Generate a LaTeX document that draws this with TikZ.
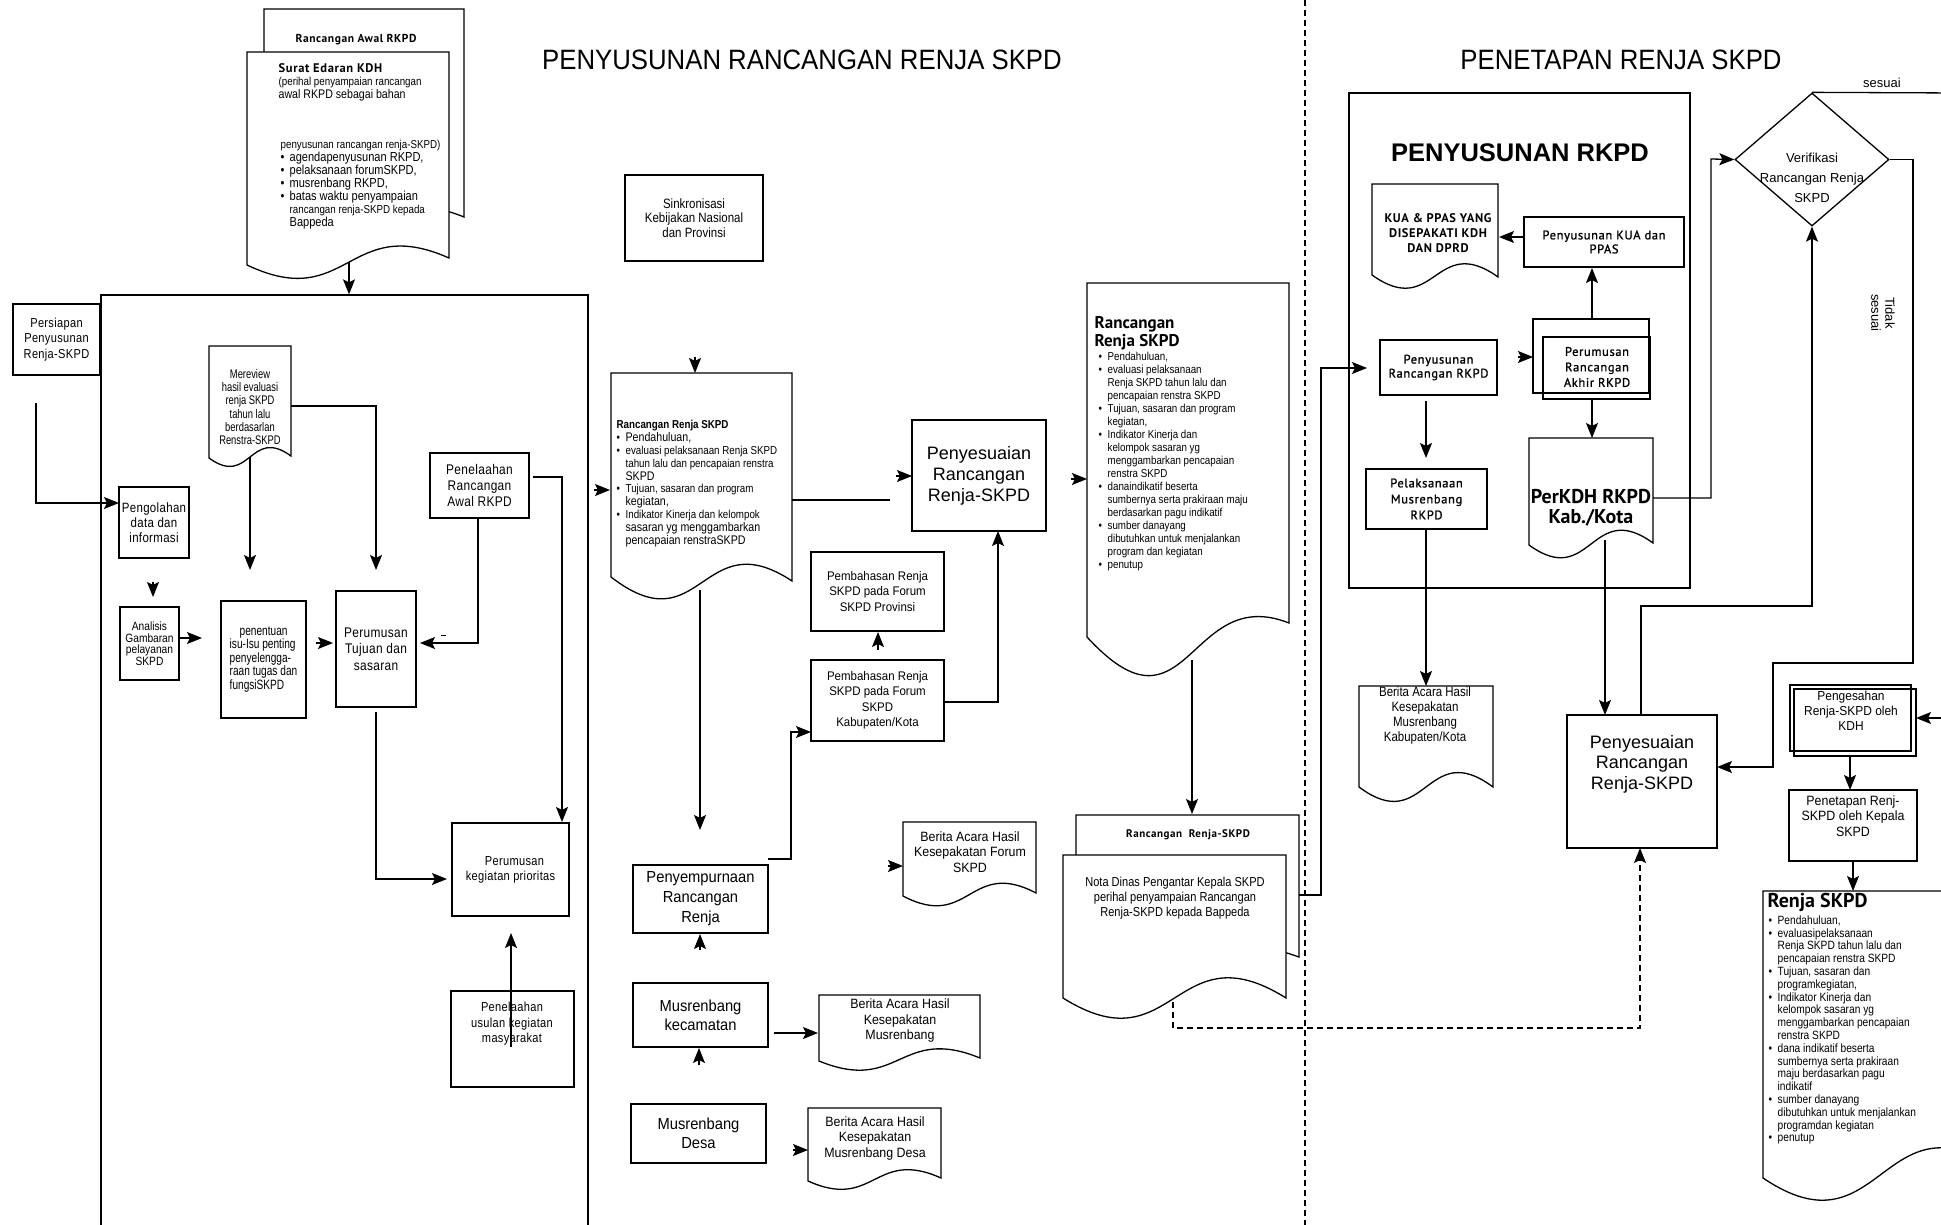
\documentclass[tikz,border=0pt]{standalone}
\usepackage{fontspec}
\setmainfont{Liberation Sans}
\newfontfamily\fT{Liberation Sans}[FakeStretch=0.92]
\newfontfamily\fN{Liberation Sans}[FakeStretch=0.85]
\newfontfamily\fNS{Liberation Sans}[FakeStretch=0.85,LetterSpace=2.5]
\newfontfamily\fNN{Liberation Sans}[FakeStretch=0.75]
\newfontfamily\fH{PT Sans}
\newfontfamily\fHS{PT Sans}[LetterSpace=5]
\newfontfamily\fHM{PT Sans}[LetterSpace=5,FakeBold=1.2]
\usetikzlibrary{arrows.meta,shapes.geometric}
\newcommand\fs[2]{\fontsize{#1}{#2}\selectfont}
\newcommand\blt{\makebox[9pt][l]{\textbullet}}
\newcommand\bi{\hspace*{9pt}}
\newcommand\bx[7][]{\pgfmathsetmacro\bxw{(#5)-(#3)}\pgfmathsetmacro\bxh{(#6)-(#4)}%
  \pgfmathsetmacro\bxcx{((#3)+(#5))/2}\pgfmathsetmacro\bxcy{((#4)+(#6))/2}%
  \node[box,minimum width=\bxw pt,minimum height=\bxh pt,#1] (#2) at (\bxcx,\bxcy) {#7};}
\newcommand\docsh[8][]{\pgfmathsetmacro\dxm{((#2)+(#4))/2}\pgfmathsetmacro\dyu{(#6)-(#7)}\pgfmathsetmacro\dyd{(#5)+(#8)}%
  \draw[doc,#1] (#2,#3) -- (#4,#3) -- (#4,#6) .. controls (\dxm,\dyu) and (\dxm,\dyd) .. (#2,#5) -- cycle;}
\begin{document}
\begin{tikzpicture}[x=1pt,y=-1pt,line width=1.3pt,
  box/.style={draw,rectangle,inner sep=0pt,align=center,fill=white},
  txt/.style={inner sep=0pt,align=center},
  ltxt/.style={inner sep=0pt,align=left,anchor=north west},
  arr/.style={-{Stealth[length=15pt,width=12pt,inset=3pt]}},
  doc/.style={draw,fill=white},
  dline/.style={dash pattern=on 6pt off 4pt}]
\useasboundingbox (0,0) rectangle (1941,1225);
\fill[white] (0,0) rectangle (1941,1225);
\clip (0,0) rectangle (1941,1225);

% titles and divider
\node[txt,font=\fT\fs{28}{30}] (t1) at (802,60) {PENYUSUNAN RANCANGAN RENJA SKPD};
\node[txt,font=\fT\fs{28}{30}] (t2) at (1621,60) {PENETAPAN RENJA SKPD};
\draw[dline] (1305,0) -- (1305,1225);

% ---------- left part ----------
\docsh{264}{9}{464}{217}{217}{40}{40}
\node[txt,font=\fHS\bfseries\fs{11.5}{13}] (rawt) at (356,40) {Rancangan Awal RKPD};
\docsh{247}{52}{449}{265}{258}{45}{48}
\node[ltxt,font=\fN\fs{11.5}{13}] (sed1) at (278,63) {{\fHS\bfseries\fs{12.5}{14}Surat Edaran KDH}\\(perihal penyampaian rancangan\\{\fs{12.5}{13}awal RKPD sebagai bahan}};
\node[ltxt,font=\fN\fs{13}{13}] (sed2) at (280,140) {{\fs{11.5}{13}penyusunan rancangan renja-SKPD)}\\\blt agendapenyusunan RKPD,\\\blt pelaksanaan forumSKPD,\\\blt musrenbang RKPD,\\\blt batas waktu penyampaian\\\bi{\fs{11.5}{13}rancangan renja-SKPD kepada}\\\bi Bappeda};

\bx[fill=none]{bigl}{101}{295}{588}{1240}{}
\bx[font=\fNS\fs{13}{15.5}]{pers}{13}{304}{100}{375}{Persiapan\\Penyusunan\\Renja-SKPD}
\bx[font=\fNS\fs{13.5}{15}]{peng}{119}{487}{189}{558}{Pengolahan\\data dan\\informasi}
\bx[font=\fN\fs{12}{11.5}]{anal}{120}{607}{179}{680}{Analisis\\Gambaran\\pelayanan\\SKPD}
\docsh{209}{346}{291}{458}{456}{30}{30}
\node[txt,font=\fNN\fs{12.5}{13.2}] (mer) at (250,407) {Mereview\\hasil evaluasi\\renja SKPD\\tahun lalu\\berdasarlan\\Renstra-SKPD};
\bx[font=\fNS\fs{14}{16}]{pen1}{430}{453}{529}{518}{Penelaahan\\Rancangan\\Awal RKPD}
\bx[font=\fNN\fs{13.5}{13.5},align=left]{pent}{221}{601}{306}{718}{\hspace*{10pt}penentuan\\isu-Isu penting\\penyelengga-\\raan tugas dan\\fungsiSKPD}
\bx[font=\fNS\fs{14}{16.3}]{ptj}{336}{591}{416}{707}{Perumusan\\Tujuan dan\\sasaran}
\bx[font=\fNS\fs{13}{15}]{pkg}{452}{823}{569}{916}{\hspace*{8pt}Perumusan\\kegiatan prioritas}
\bx{pus}{451}{991}{574}{1087}{}
\node[txt,font=\fNS\fs{13}{15.5}] (pust) at (512,1024) {Penelaahan\\usulan kegiatan\\masyarakat};

% ---------- middle part ----------
\bx[font=\fN\fs{13.5}{14.5}]{sink}{625}{175}{763}{261}{Sinkronisasi\\Kebijakan Nasional\\dan Provinsi}
\docsh{611}{373}{792}{577}{581}{60}{70}
\node[ltxt,font=\fN\fs{11.5}{12.8}] (mdoc) at (616,420) {{\bfseries Rancangan Renja SKPD}\\\blt{\fs{12.5}{12.8}Pendahuluan,}\\\blt evaluasi pelaksanaan Renja SKPD\\\bi tahun lalu dan pencapaian renstra\\\bi{\fs{12.5}{12.8}SKPD}\\\blt Tujuan, sasaran dan program\\\bi{\fs{12.5}{12.8}kegiatan,}\\\blt Indikator Kinerja dan kelompok\\\bi{\fs{12.5}{12.8}sasaran yg menggambarkan}\\\bi{\fs{12.5}{12.8}pencapaian renstraSKPD}};
\bx[font=\fs{18}{21}]{pmid}{912}{420}{1046}{531}{Penyesuaian\\Rancangan\\Renja-SKPD}
\bx[font=\fT\fs{12.5}{15.5}]{pprov}{811}{552}{944}{631}{Pembahasan Renja\\SKPD pada Forum\\SKPD Provinsi}
\bx[font=\fT\fs{12.5}{15.5}]{pkab}{811}{660}{944}{741}{Pembahasan Renja\\SKPD pada Forum\\SKPD\\Kabupaten/Kota}
\bx[font=\fT\fs{16}{20}]{psmp}{633}{865}{768}{933}{Penyempurnaan\\Rancangan\\Renja}
\bx[font=\fT\fs{16}{19}]{mkec}{633}{983}{768}{1047}{Musrenbang\\kecamatan}
\bx[font=\fT\fs{16}{19}]{mdes}{631}{1104}{766}{1163}{Musrenbang\\Desa}
\docsh{903}{822}{1036}{896}{893}{35}{35}
\node[txt,font=\fT\fs{13.5}{15.5}] (bfor) at (970,852) {Berita Acara Hasil\\Kesepakatan Forum\\SKPD};
\docsh{819}{995}{980}{1061}{1058}{33}{33}
\node[txt,font=\fT\fs{13.5}{15.5}] (bmus) at (900,1021) {Berita Acara Hasil\\Kesepakatan\\Musrenbang};
\docsh{808}{1108}{941}{1181}{1178}{30}{30}
\node[txt,font=\fT\fs{13.5}{15.5}] (bdes) at (875,1138) {Berita Acara Hasil\\Kesepakatan\\Musrenbang Desa};

% ---------- right of middle ----------
\docsh{1087}{283}{1289}{637}{623}{40}{110}
\node[ltxt,font=\fH\bfseries\fs{17}{17.5}] (rdt) at (1094,316) {Rancangan\\Renja SKPD};
\node[ltxt,font=\fN\fs{11.5}{13}] (rdoc) at (1098,352) {\blt Pendahuluan,\\\blt evaluasi pelaksanaan\\\bi Renja SKPD tahun lalu dan\\\bi pencapaian renstra SKPD\\\blt Tujuan, sasaran dan program\\\bi kegiatan,\\\blt Indikator Kinerja dan\\\bi kelompok sasaran yg\\\bi menggambarkan pencapaian\\\bi renstra SKPD\\\blt danaindikatif beserta\\\bi sumbernya serta prakiraan maju\\\bi berdasarkan pagu indikatif\\\blt sumber danayang\\\bi dibutuhkan untuk menjalankan\\\bi program dan kegiatan\\\blt penutup};
\docsh{1076}{815}{1299}{957}{957}{40}{40}
\node[txt,font=\fHS\bfseries\fs{11}{12}] (nbt) at (1188,835) {Rancangan\ \ Renja-SKPD};
\docsh{1063}{855}{1286}{998}{998}{70}{70}
\node[txt,font=\fN\fs{13}{15}] (nota) at (1175,898) {Nota Dinas Pengantar Kepala SKPD\\perihal penyampaian Rancangan\\Renja-SKPD kepada Bappeda};

% ---------- RKPD ----------
\bx[fill=none]{rkpdb}{1349}{93}{1690}{588}{}
\node[txt,font=\bfseries\fs{25.5}{28}] (rkpdt) at (1520,153) {PENYUSUNAN RKPD};
\docsh{1372}{184}{1498}{275}{277}{45}{45}
\node[txt,font=\fHS\bfseries\fs{12.5}{15}] (kua) at (1438,233) {KUA \& PPAS YANG\\DISEPAKATI KDH\\DAN DPRD};
\bx[font=\fHM\fs{12.5}{14}]{pkua}{1524}{217}{1684}{267}{Penyusunan KUA dan\\PPAS}
\bx[fill=none]{pak1}{1533}{319}{1649}{393}{}
\bx[fill=none]{pak2}{1543}{337}{1650}{399}{}
\node[txt,font=\fHM\fs{12.5}{15.5}] (pakt) at (1597,367) {Perumusan\\Rancangan\\Akhir RKPD};
\bx[font=\fHM\fs{12.5}{14}]{pnr}{1380}{340}{1497}{395}{Penyusunan\\Rancangan RKPD}
\bx[font=\fHM\fs{12.5}{16}]{pel}{1366}{469}{1487}{529}{Pelaksanaan\\Musrenbang\\RKPD}
\docsh{1529}{438}{1653}{545}{543}{45}{45}
\node[txt,font=\fH\bfseries\fs{20}{20.5}] (pkdh) at (1591,508) {PerKDH RKPD\\Kab./Kota};
\docsh{1359}{686}{1493}{787}{787}{50}{50}
\node[txt,font=\fN\fs{13.5}{15}] (bkab) at (1425,716) {Berita Acara Hasil\\Kesepakatan\\Musrenbang\\Kabupaten/Kota};

% ---------- far right ----------
\node[draw,diamond,minimum width=154pt,minimum height=133pt,inner sep=0pt] (ver) at (1812,159.5) {};
\node[txt,font=\fs{13}{20}] (vtx) at (1812,178) {Verifikasi\\Rancangan Renja\\SKPD};
\node[txt,font=\fs{13}{14}] (ses) at (1882,83) {sesuai};
\node[txt,font=\fs{13}{14},rotate=-90] (tds) at (1883,313) {Tidak\\sesuai};
\bx{prt}{1567}{715}{1717}{848}{}
\node[txt,font=\fs{18}{20.5}] (prtx) at (1642,764) {Penyesuaian\\Rancangan\\Renja-SKPD};
\bx[fill=none]{pgs1}{1790}{685}{1911}{751}{}
\bx[fill=none]{pgs2}{1794}{689}{1916}{756}{}
\node[txt,font=\fT\fs{13}{15}] (pgst) at (1851,711) {Pengesahan\\Renja-SKPD oleh\\KDH};
\bx{ptp}{1789}{790}{1917}{861}{}
\node[txt,font=\fT\fs{13.5}{15.5}] (ptpt) at (1853,816) {Penetapan Renj-\\SKPD oleh Kepala\\SKPD};
\docsh{1763}{891}{2000}{1178}{1170}{80}{80}
\node[ltxt,font=\fH\bfseries\fs{20}{20}] (rjt) at (1767,893) {Renja SKPD};
\node[ltxt,font=\fN\fs{12}{12.8}] (rjl) at (1768,915) {\blt Pendahuluan,\\\blt evaluasipelaksanaan\\\bi Renja SKPD tahun lalu dan\\\bi pencapaian renstra SKPD\\\blt Tujuan, sasaran dan\\\bi programkegiatan,\\\blt Indikator Kinerja dan\\\bi kelompok sasaran yg\\\bi menggambarkan pencapaian\\\bi renstra SKPD\\\blt dana indikatif beserta\\\bi sumbernya serta prakiraan\\\bi maju berdasarkan pagu\\\bi indikatif\\\blt sumber danayang\\\bi dibutuhkan untuk menjalankan\\\bi programdan kegiatan\\\blt penutup};

% ---------- connectors ----------
\draw[arr] (349,262) -- (bigl.north -| 349,0);
\draw[arr] (36,403) -- (36,503) -- (119,503);
\draw[arr] (153,582) -- (153,597);
\draw[arr] (179,638) -- (202,638);
\draw[arr] (250,457) -- (250,570);
\draw[arr] (291,406) -- (376,406) -- (376,570);
\draw[arr] (533,477) -- (562,477) -- (562,822);
\draw[arr] (478,518) -- (478,643) -- (420,643);
\draw[line width=0.8pt] (441,635) -- (446,635);
\draw[arr] (316,643) -- (333,643);
\draw[arr] (376,712) -- (376,879) -- (447,879);
\draw[arr] (511,1047) -- (511,933);
\draw[arr] (695,357) -- (695,373);
\draw[arr] (594,490) -- (610,490);
\draw (792,500) -- (890,500);
\draw[arr] (896,476) -- (912,476);
\draw[arr] (944,702) -- (998,702) -- (998,531);
\draw[arr] (878,650) -- (878,632);
\draw[arr] (700,590) -- (700,830);
\draw[arr] (768,859) -- (791,859) -- (791,732) -- (811,732);
\draw[arr] (700,950) -- (700,934);
\draw[arr] (774,1033) -- (818,1033);
\draw[arr] (699,1065) -- (699,1048);
\draw[arr] (793,1150) -- (808,1150);
\draw[arr] (888,866) -- (903,866);
\draw[arr] (1071,479) -- (1087,479);
\draw[arr] (1192,660) -- (1192,814);
\draw[arr] (1299,895) -- (1321,895) -- (1321,368) -- (1367,368);
\draw[arr,dline] (1173,1002) -- (1173,1028) -- (1640,1028) -- (1640,848);
\draw[arr] (1524,237) -- (1499,237);
\draw[arr] (1592,319) -- (1592,268);
\draw[arr] (1518,357) -- (1533,357);
\draw[arr] (1426,401) -- (1426,458);
\draw[arr] (1426,529) -- (1426,686);
\draw[arr] (1592,399) -- (1592,438);
\draw[arr] (1653,498) -- (1711,498) -- (1711,159) -- (ver.west);
\draw[arr] (1605,540) -- (1605,715);
\draw (ver.north) -- (1960,93);
\draw[arr] (ver.east) -- (1913,159.5) -- (1913,663) -- (1773,663) -- (1773,767) -- (1717,767);
\draw[arr] (1641,715) -- (1641,606) -- (1812,606) -- (ver.south);
\draw[arr] (1960,718) -- (1916,718);
\draw[arr] (1850,756) -- (1850,790);
\draw[arr] (1853,861) -- (1853,891);
\end{tikzpicture}
\end{document}
